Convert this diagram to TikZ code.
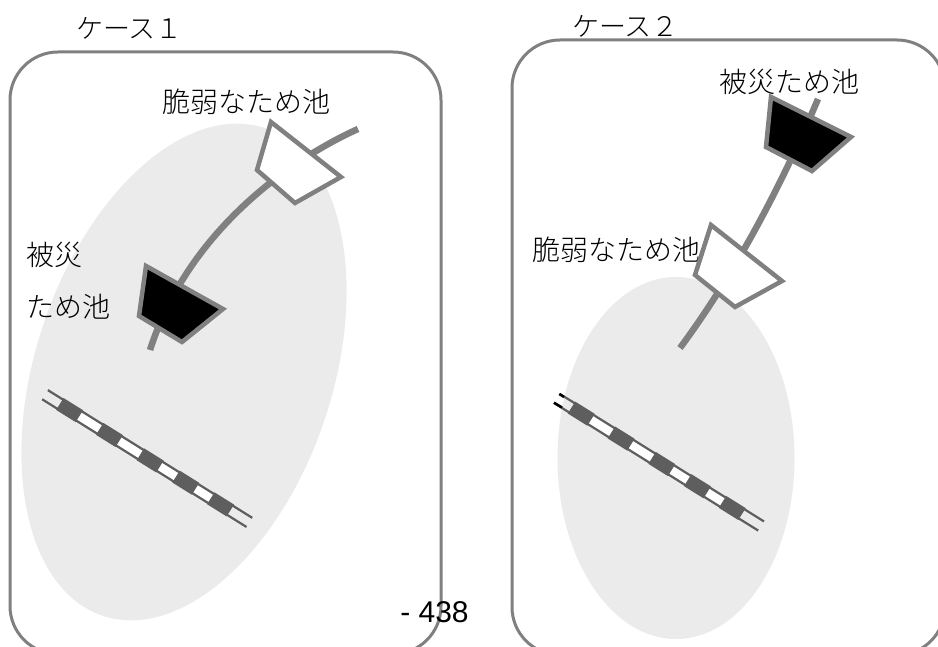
\documentclass[tikz,border=0pt]{standalone}
\usepackage{fontspec}
\setmainfont{Noto Sans CJK JP}[UprightFont=* Light]
\newfontfamily\pagefont{Liberation Sans}
\definecolor{linegray}{HTML}{808080}
\definecolor{areagray}{HTML}{EBEBEB}
\definecolor{trackgray}{HTML}{5E5E5E}
\tikzset{
	frame/.style = {draw=linegray, line width=3pt, rounded corners=48pt},
	area/.style = {fill=areagray},
	label/.style = {font=\fontsize{28}{28}\selectfont, inner sep=0pt, anchor=west},
	title/.style = {font=\fontsize{27}{27}\selectfont, inner sep=0pt, anchor=west},
	river/.style = {draw=linegray, line width=6.5pt},
	pond/.style = {draw=linegray, line width=4.5pt, line join=miter},
	rail/.style = {draw=trackgray, line width=2.2pt},
	tie/.style = {fill=trackgray},
	railend/.style = {draw=black, line width=2.5pt}
}
\newcommand{\track}[2]{
	\begin{scope}[shift={(#1,#2)}, rotate=-32]
		\fill[white] (18,-5) rectangle (218,5);
		\draw[rail] (0,-5.4)--(241,-5.4);
		\draw[rail] (0,5.4)--(241,5.4);
		\foreach \pos in {29,76,124,166,207}{
			\fill[tie] (\pos-11.5,-7) rectangle (\pos+11.5,7);
		}
	\end{scope}
}
\begin{document}
\begin{tikzpicture}[x=1pt, y=-1pt]
	\useasboundingbox (0,0) rectangle (938,647);
	\clip (0,0) rectangle (938,647);
	% case 1
	\draw[frame] (10,654) rectangle (441,52);
	\fill[area, rotate around={-18.4:(184,372)}] (184,372) ellipse [x radius=148.5, y radius=257];
	\node[title] (title1) at (76,28) {ケース１};
	\node[label] (weak1) at (162,102) {脆弱なため池};
	\node[label] (hit1a) at (26,255) {被災};
	\node[label] (hit1b) at (26,307) {ため池};
	\draw[river] (358,129) .. controls (300,155) and (190,225) .. (150,350);
	\draw[pond, fill=white] (271,122) -- (341,177) -- (295,203) -- (257,170) -- cycle;
	\draw[pond, fill=black] (146,266) -- (223,309) -- (182,342) -- (139,316) -- cycle;
	\track{45}{394.7}
	% case 2
	\draw[frame] (512,655) rectangle (945,40);
	\fill[area] (676,458) ellipse [x radius=118.5, y radius=181];
	\node[title] (title2) at (572,26) {ケース２};
	\node[label] (hit2) at (719,82) {被災ため池};
	\node[label] (weak2) at (532,250) {脆弱なため池};
	\draw[river] (818,99) .. controls (790,165) and (745,260) .. (680,348);
	\draw[pond, fill=white] (711,225) -- (782,281) -- (735,307) -- (695,275) -- cycle;
	\draw[pond, fill=black] (771,97) -- (851,137) -- (812,171) -- (766,147) -- cycle;
	\track{556.7}{398.3}
	\draw[railend] (559.3,394) -- (564,397);
	\draw[railend] (554,402.7) -- (562,407.5);
	\node[font=\fontsize{30}{30}\selectfont\pagefont, inner sep=0pt] (page) at (434.5,612) {- 438};
\end{tikzpicture}
\end{document}
